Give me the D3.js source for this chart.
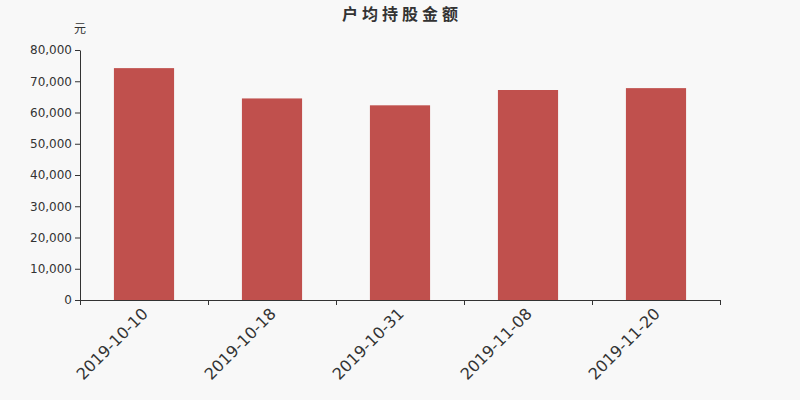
<!DOCTYPE html>
<html>
<head>
<meta charset="utf-8">
<script src="https://cdn.jsdelivr.net/npm/d3@7/dist/d3.min.js"></script>
<style>
  body { margin: 0; background: #f8f8f8; }
  text { font-family: "DejaVu Sans", "Noto Sans CJK SC", sans-serif; }
</style>
</head>
<body>
<div class="chart"></div>
<script>
var dates = ['2019-10-10', '2019-10-18', '2019-10-31', '2019-11-08', '2019-11-20'];
var amounts = [74200, 64500, 62300, 67200, 67800];
var yTicks = [0, 10000, 20000, 30000, 40000, 50000, 60000, 70000, 80000];

var width = 800,
  height = 400,
  plotLeft = 80, plotRight = 720, plotTop = 50, plotBottom = 300;

var svg = d3.select('.chart')
  .append('svg')
  .attr('width', width)
  .attr('height', height)
  .style('background', '#f8f8f8');

// title
svg.append('text')
  .attr('x', 402).attr('y', 20)
  .attr('text-anchor', 'middle')
  .style('font-size', '16px')
  .style('font-weight', 'bold')
  .style('letter-spacing', '4px')
  .style('fill', '#333')
  .text('户均持股金额');

svg.append('text')
  .attr('x', 80).attr('y', 33)
  .attr('text-anchor', 'middle')
  .style('font-size', '12px')
  .style('fill', '#333')
  .text('元');

var xScale = d3.scaleBand()
  .domain(dates)
  .range([plotLeft, plotRight])
  .paddingInner(0.53)
  .paddingOuter(0.265);

var yScale = d3.scaleLinear()
  .domain([0, 80000])
  .range([plotBottom, plotTop]);

// bars
svg.selectAll('.bar')
  .data(dates)
  .enter()
  .append('rect')
  .attr('class', 'bar')
  .attr('x', function(d) { return xScale(d); })
  .attr('width', xScale.bandwidth())
  .attr('y', function(d, i) { return yScale(amounts[i]); })
  .attr('height', function(d, i) { return plotBottom - yScale(amounts[i]); })
  .style('fill', '#c0504d');

// y axis
var yAxis = d3.axisLeft(yScale)
  .tickValues(yTicks)
  .tickSize(5)
  .tickSizeOuter(0)
  .tickFormat(d3.format(','));

var yAxisG = svg.append('g')
  .attr('transform', 'translate(' + plotLeft + ',0)')
  .call(yAxis);
yAxisG.selectAll('text').style('font-size', '12px').style('fill', '#333');
yAxisG.selectAll('line, path').style('stroke', '#333');

// x axis: ticks on band boundaries
var bandStep = xScale.step();
var xAxisG = svg.append('g')
  .attr('transform', 'translate(0,' + plotBottom + ')');
xAxisG.append('line')
  .attr('x1', plotLeft).attr('x2', plotRight)
  .attr('y1', 0.5).attr('y2', 0.5)
  .style('stroke', '#333');
xAxisG.selectAll('.tick')
  .data(d3.range(dates.length + 1))
  .enter()
  .append('line')
  .attr('x1', function(i) { return plotLeft + i * bandStep + 0.5; })
  .attr('x2', function(i) { return plotLeft + i * bandStep + 0.5; })
  .attr('y1', 0).attr('y2', 5)
  .style('stroke', '#333');
xAxisG.selectAll('.label')
  .data(dates)
  .enter()
  .append('text')
  .attr('transform', function(d) {
    return 'translate(' + (xScale(d) + xScale.bandwidth() / 2 - 3) + ',7) rotate(-45)';
  })
  .attr('text-anchor', 'end')
  .attr('dy', '0.7em')
  .style('font-size', '16px')
  .style('fill', '#333')
  .text(function(d) { return d; });
</script>
</body>
</html>
